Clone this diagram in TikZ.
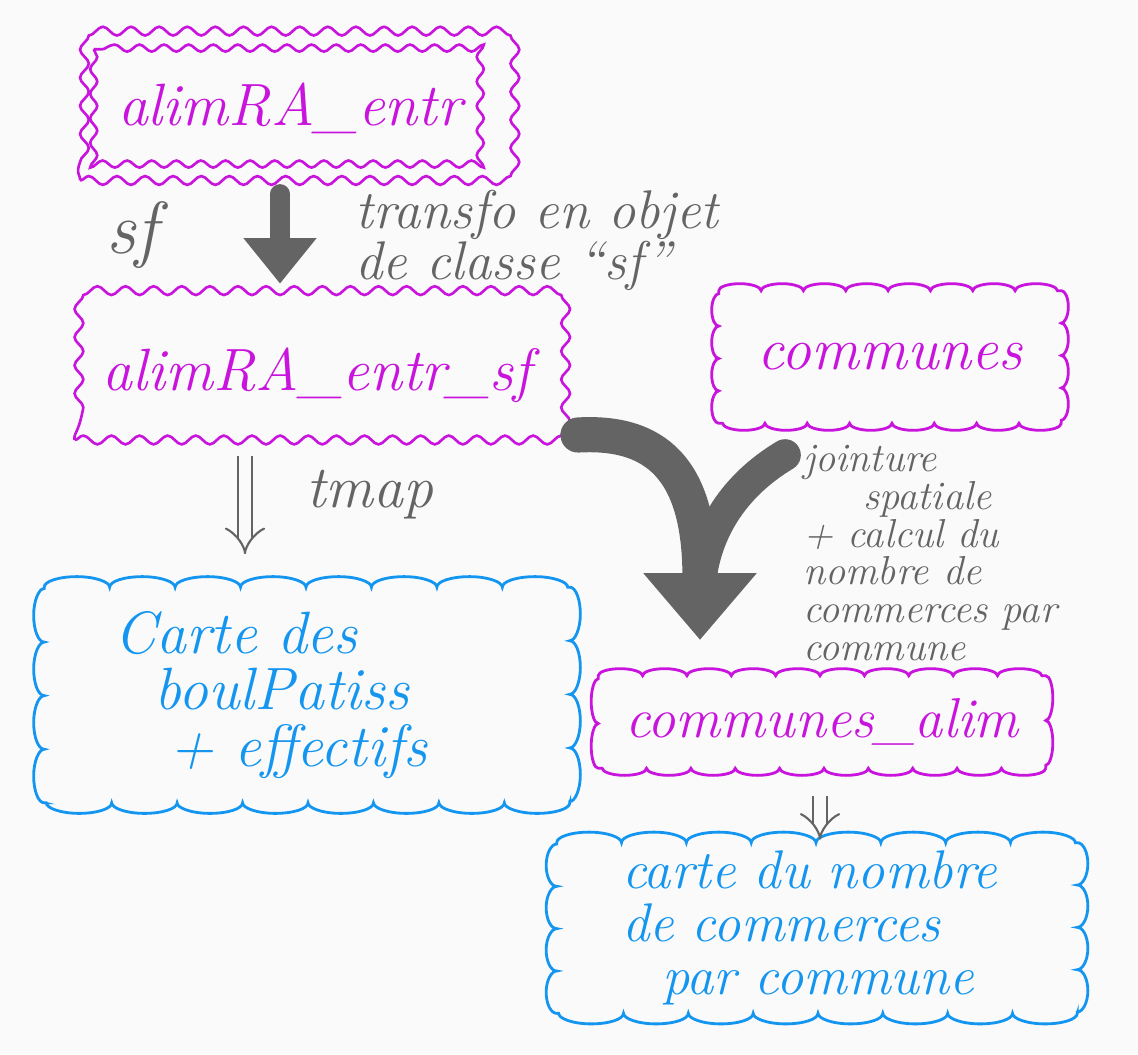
\documentclass[tikz,border=0pt]{standalone}
\usepackage{tikz}
\usetikzlibrary{decorations.pathmorphing,arrows.meta}
\definecolor{magpen}{RGB}{200,20,220}
\definecolor{bluepen}{RGB}{20,150,240}
\definecolor{graypen}{RGB}{100,100,100}
\definecolor{paper}{RGB}{250,250,250}
\tikzset{
  entity/.style={draw=magpen, text=magpen, line width=1.5pt, decorate,
    decoration={snake, amplitude=2.5pt, segment length=16pt},
    font=\itshape\fontsize{34}{38}\selectfont},
  result/.style={text=bluepen, align=left},
  note/.style={text=graypen, align=left},
  bigarrow/.style={draw=graypen, line width=11pt, line cap=round,
    -{Triangle[width=40pt, length=26pt]}},
  thinarrow/.style={draw=graypen, line width=1.2pt, double=paper,
    double distance=7pt, -{Implies}},
}
% cloud border: node, colour, amplitude, top/bottom segment, side segment
\newcommand{\bumpframe}[5]{%
  \draw [#2, line width=1.6pt, line cap=round]
    (#1.north west)
    decorate [decoration={bumps, amplitude=#3, segment length=#4}] {-- (#1.north east)}
    decorate [decoration={bumps, amplitude=#3, segment length=#5}] {-- (#1.south east)}
    decorate [decoration={bumps, amplitude=#3, segment length=#4}] {-- (#1.south west)}
    decorate [decoration={bumps, amplitude=#3, segment length=#5}] {-- (#1.north west)};}
\begin{document}
\begin{tikzpicture}[x=0.02cm, y=-0.02cm]
\fill [paper] (0,0) rectangle (1138,1054);
\useasboundingbox (0,0) rectangle (1138,1054);
% tables
\node [entity, minimum width=8.4cm, minimum height=2.9cm] (entr) at (290,108) {alimRA\_entr};
\draw [magpen, line width=1.5pt, decorate, decoration={snake, amplitude=2pt, segment length=14pt}]
  ([shift={(15,15)}]entr.north west) rectangle ([shift={(-15,-15)}]entr.south east);
\node [entity, minimum width=9.7cm, minimum height=2.6cm] (entrsf) at (317,375) {alimRA\_entr\_sf};
\node [entity, draw=none, minimum width=6.8cm, minimum height=2.6cm] (communes) at (890,357) {communes};
\bumpframe{communes}{magpen}{4pt}{48.2pt}{36.9pt}
\node [entity, draw=none, minimum width=8.9cm, minimum height=1.8cm,
  font=\itshape\fontsize{32}{36}\selectfont] (alim) at (822,722) {communes\_alim};
\bumpframe{alim}{magpen}{4pt}{50.5pt}{51pt}
% maps
\node [result, minimum width=10.5cm, minimum height=4.3cm, inner xsep=1.4cm, text width=7.7cm,
  font=\itshape\fontsize{34}{32}\selectfont] (carte1) at (307,695)
  {Carte des\\ \hspace*{0.8cm}boulPatiss\\ \hspace*{1.1cm}+ effectifs};
\bumpframe{carte1}{bluepen}{6pt}{74.5pt}{61pt}
\node [result, minimum width=10.4cm, minimum height=3.4cm, inner xsep=1.3cm, text width=7.8cm,
  font=\itshape\fontsize{31}{30}\selectfont] (carte2) at (817,928)
  {carte du nombre\\ de commerces\\ \hspace*{0.8cm}par commune};
\bumpframe{carte2}{bluepen}{6pt}{73.8pt}{48.2pt}
% steps
\coordinate (jleft) at (578,435);
\coordinate (jright) at (785,455);
\coordinate (jtip) at (700,640);
\draw [bigarrow] ([shift={(-10,12)}]entr.south) -- ([shift={(-37,-25)}]entrsf.north);
\draw [bigarrow, line width=20pt, -{Triangle[width=62pt, length=38pt]}]
  (jleft) .. controls (665,430) and (700,480) .. (jtip);
\draw [graypen, line width=18pt, line cap=round]
  (jright) .. controls (735,485) and (705,530) .. (700,585);
\draw [thinarrow] ([shift={(-72,15)}]entrsf.south) -- ([shift={(-62,-33)}]carte1.north);
\draw [thinarrow] ([shift={(-2,28)}]alim.south) -- ([shift={(3,-3)}]carte2.north);
% labels
\node [note, font=\itshape\fontsize{42}{42}\selectfont] (sf) at (132,235) {sf};
\node [note, font=\itshape\fontsize{31}{29}\selectfont] (transfo) at (537,240)
  {transfo en objet\\ de classe ``sf''};
\node [note, font=\itshape\fontsize{34}{34}\selectfont] (tmap) at (370,495) {tmap};
\node [note, font=\itshape\fontsize{23}{21.5}\selectfont] (jointure) at (930,553)
  {jointure\\ \hspace*{1.2cm}spatiale\\ + calcul du\\ nombre de\\ commerces par\\ commune};
\end{tikzpicture}
\end{document}
